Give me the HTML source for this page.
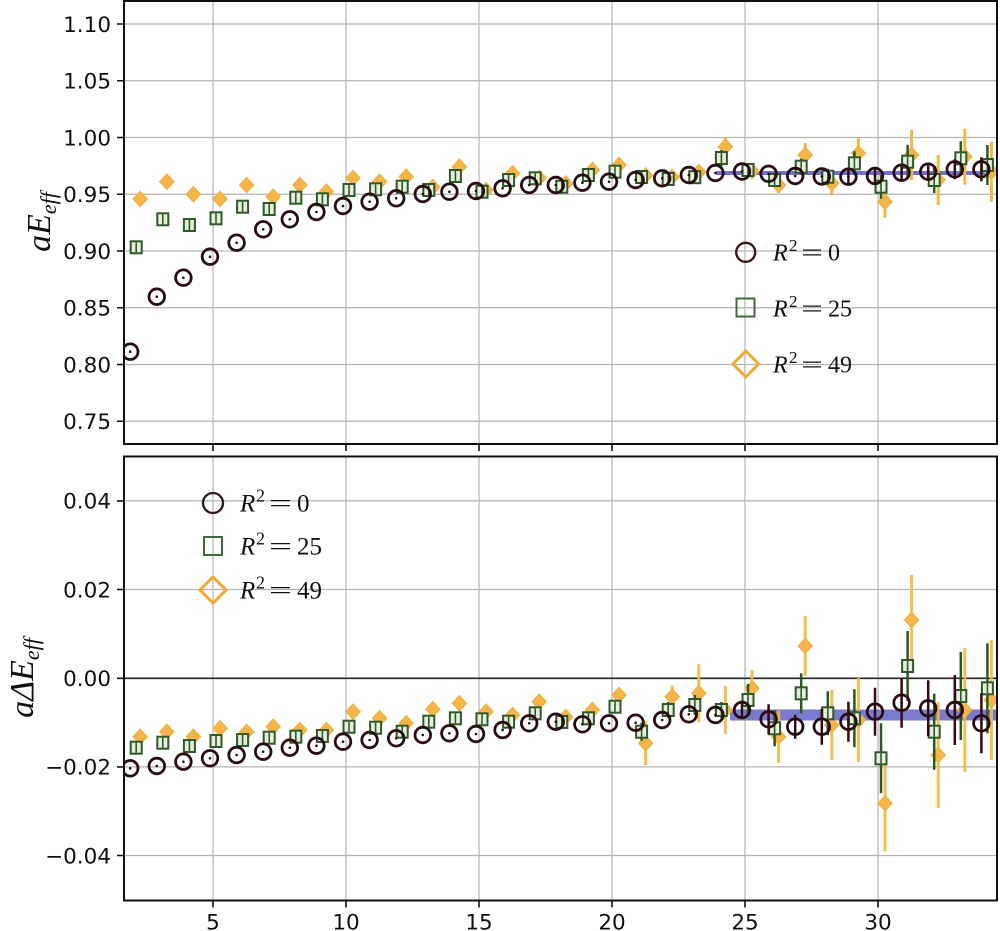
<!DOCTYPE html>
<html><head><meta charset="utf-8"><style>
html,body{margin:0;padding:0;background:#fff;}
svg{display:block;}
.tk{font-family:"DejaVu Sans","Liberation Sans",sans-serif;font-size:21.5px;fill:#111;}
.lg{font-family:"Liberation Serif",serif;fill:#111;}
</style></head><body>
<svg width="1000" height="931" viewBox="0 0 1000 931" xmlns="http://www.w3.org/2000/svg">
<defs>
<clipPath id="ct"><rect x="124" y="1" width="873" height="443"/></clipPath>
<clipPath id="cb"><rect x="124" y="456.5" width="873" height="444"/></clipPath>
<g id="c"><circle r="7.8" fill="none" stroke="#2c0c14" stroke-width="2.8"/><circle r="1.3" fill="#2c0c14"/></g>
<g id="s"><rect x="-5.5" y="-6" width="11" height="12" fill="#e6eedc" stroke="#2d5a28" stroke-width="2"/><line y1="-5" y2="5" stroke="#2d5a28" stroke-width="1.6"/></g>
<g id="d"><path d="M0,-7.8 L7.2,0 L0,7.8 L-7.2,0Z" fill="#f5b548" stroke="#f3b040" stroke-width="1"/></g>
</defs>

<!-- ================= TOP PANEL ================= -->
<g stroke="#b4b4b4" stroke-width="1.2">
<path d="M213 1V444M346 1V444M479 1V444M612 1V444M745 1V444M878 1V444"/>
<path d="M124 24H997M124 80.75H997M124 137.5H997M124 194.25H997M124 251H997M124 307.75H997M124 364.5H997M124 421.25H997"/>
</g>
<g clip-path="url(#ct)">
<line x1="716" y1="173" x2="997" y2="173" stroke="#6262c6" stroke-width="4" opacity="0.9"/>
<path stroke="#f3b845" stroke-width="3" fill="none" d="M725.4 136.7V156.7M752 165V177M778.6 177V193M805.2 143V167M831.8 171.3V195.3M858.4 138.3V168.3M885 185.7V217.7M911.6 130V180M938.2 155V205M964.8 128.7V184.7M991.4 141.7V201.7"/>
<use href="#d" x="140.2" y="199"/><use href="#d" x="166.8" y="181.7"/><use href="#d" x="193.4" y="194.3"/><use href="#d" x="220" y="199"/><use href="#d" x="246.6" y="185"/><use href="#d" x="273.2" y="196.7"/><use href="#d" x="299.8" y="185"/><use href="#d" x="326.4" y="191.7"/><use href="#d" x="353" y="178"/><use href="#d" x="379.6" y="181.7"/><use href="#d" x="406.2" y="176.7"/><use href="#d" x="432.8" y="187"/><use href="#d" x="459.4" y="166.7"/><use href="#d" x="486" y="190"/><use href="#d" x="512.6" y="173.3"/><use href="#d" x="539.2" y="178"/><use href="#d" x="565.8" y="183.5"/><use href="#d" x="592.4" y="170"/><use href="#d" x="619" y="165"/><use href="#d" x="645.6" y="175.5"/><use href="#d" x="672.2" y="177"/><use href="#d" x="698.8" y="172"/><use href="#d" x="725.4" y="146.7"/><use href="#d" x="752" y="171"/><use href="#d" x="778.6" y="185"/><use href="#d" x="805.2" y="155"/><use href="#d" x="831.8" y="183.3"/><use href="#d" x="858.4" y="153.3"/><use href="#d" x="885" y="201.7"/><use href="#d" x="911.6" y="155"/><use href="#d" x="938.2" y="180"/><use href="#d" x="964.8" y="156.7"/><use href="#d" x="991.4" y="171.7"/>
<path stroke="#2a5a1c" stroke-width="2.5" fill="none" d="M721.4 150V166M748 165V175M774.6 174V186M801.2 158.7V174.7M827.8 168.7V184.7M854.4 151.3V175.3M881 174.7V198.7M907.6 144.7V178.7M934.2 167V193M960.8 141.3V175.3M987.4 145V185"/>
<use href="#s" x="136.2" y="247.3"/><use href="#s" x="162.8" y="219.3"/><use href="#s" x="189.4" y="225"/><use href="#s" x="216" y="218.3"/><use href="#s" x="242.6" y="206.7"/><use href="#s" x="269.2" y="209"/><use href="#s" x="295.8" y="197.7"/><use href="#s" x="322.4" y="199.3"/><use href="#s" x="349" y="190"/><use href="#s" x="375.6" y="189.3"/><use href="#s" x="402.2" y="186.7"/><use href="#s" x="428.8" y="190"/><use href="#s" x="455.4" y="176"/><use href="#s" x="482" y="191.7"/><use href="#s" x="508.6" y="180"/><use href="#s" x="535.2" y="178.3"/><use href="#s" x="561.8" y="186.7"/><use href="#s" x="588.4" y="175"/><use href="#s" x="615" y="171.7"/><use href="#s" x="641.6" y="177"/><use href="#s" x="668.2" y="179"/><use href="#s" x="694.8" y="177.2"/><use href="#s" x="721.4" y="158"/><use href="#s" x="748" y="170"/><use href="#s" x="774.6" y="180"/><use href="#s" x="801.2" y="166.7"/><use href="#s" x="827.8" y="176.7"/><use href="#s" x="854.4" y="163.3"/><use href="#s" x="881" y="186.7"/><use href="#s" x="907.6" y="161.7"/><use href="#s" x="934.2" y="180"/><use href="#s" x="960.8" y="158.3"/><use href="#s" x="987.4" y="165"/>
<path stroke="#3a0a14" stroke-width="2.5" fill="none" d="M848.4 168.7V184.7M875 168V184M901.6 163.7V181.7M928.2 162.7V180.7M954.8 159.3V179.3M981.4 157.3V181.3"/>
<use href="#c" x="130.2" y="351.7"/><use href="#c" x="156.8" y="296.7"/><use href="#c" x="183.4" y="277.7"/><use href="#c" x="210" y="256.7"/><use href="#c" x="236.6" y="242.7"/><use href="#c" x="263.2" y="229.3"/><use href="#c" x="289.8" y="219.3"/><use href="#c" x="316.4" y="212"/><use href="#c" x="343" y="206"/><use href="#c" x="369.6" y="201.7"/><use href="#c" x="396.2" y="198.3"/><use href="#c" x="422.8" y="194"/><use href="#c" x="449.4" y="191.7"/><use href="#c" x="476" y="191"/><use href="#c" x="502.6" y="188.3"/><use href="#c" x="529.2" y="185"/><use href="#c" x="555.8" y="185"/><use href="#c" x="582.4" y="182.7"/><use href="#c" x="609" y="181.7"/><use href="#c" x="635.6" y="180"/><use href="#c" x="662.2" y="178.3"/><use href="#c" x="688.8" y="175"/><use href="#c" x="715.4" y="173"/><use href="#c" x="742" y="171.5"/><use href="#c" x="768.6" y="173.8"/><use href="#c" x="795.2" y="176"/><use href="#c" x="821.8" y="176.5"/><use href="#c" x="848.4" y="176.7"/><use href="#c" x="875" y="176"/><use href="#c" x="901.6" y="172.7"/><use href="#c" x="928.2" y="171.7"/><use href="#c" x="954.8" y="169.3"/><use href="#c" x="981.4" y="169.3"/>
</g>
<circle cx="745.7" cy="252.3" r="9.5" fill="none" stroke="#3a1418" stroke-width="2.3"/>
<rect x="736.5" y="298.5" width="18" height="18" fill="none" stroke="#3d6b3d" stroke-width="2"/>
<path d="M745.7 351 L758.5 364 L745.7 377 L733 364Z" fill="none" stroke="#f0aa30" stroke-width="3"/>
<g class="lg">
<text x="773" y="260.5" font-size="24" font-style="italic">R</text><text x="789" y="251" font-size="17">2</text><text x="801" y="260.5" font-size="24" textLength="22" lengthAdjust="spacingAndGlyphs">=</text><text x="828" y="260.5" font-size="24">0</text>
<text x="773" y="316.5" font-size="24" font-style="italic">R</text><text x="789" y="307" font-size="17">2</text><text x="801" y="316.5" font-size="24" textLength="22" lengthAdjust="spacingAndGlyphs">=</text><text x="828" y="316.5" font-size="24">25</text>
<text x="773" y="372.5" font-size="24" font-style="italic">R</text><text x="789" y="363" font-size="17">2</text><text x="801" y="372.5" font-size="24" textLength="22" lengthAdjust="spacingAndGlyphs">=</text><text x="828" y="372.5" font-size="24">49</text>
</g>
<rect x="124" y="1" width="873" height="443" fill="none" stroke="#111" stroke-width="2"/>
<g stroke="#111" stroke-width="1.6">
<path d="M117 24H124M117 80.75H124M117 137.5H124M117 194.25H124M117 251H124M117 307.75H124M117 364.5H124M117 421.25H124"/>
<path d="M213 444V451M346 444V451M479 444V451M612 444V451M745 444V451M878 444V451"/>
</g>
<g class="tk" text-anchor="end">
<text x="111" y="31.8">1.10</text><text x="111" y="88.5">1.05</text><text x="111" y="145.3">1.00</text><text x="111" y="202">0.95</text><text x="111" y="258.8">0.90</text><text x="111" y="315.5">0.85</text><text x="111" y="372.3">0.80</text><text x="111" y="429">0.75</text>
</g>
<text transform="translate(50,222) rotate(-90)" text-anchor="middle" font-family="Liberation Serif,serif" font-style="italic" font-size="34" fill="#111">aE<tspan font-size="22" dy="6">eff</tspan></text>

<!-- ================= BOTTOM PANEL ================= -->
<g stroke="#b4b4b4" stroke-width="1.2">
<path d="M213 456.5V900.5M346 456.5V900.5M479 456.5V900.5M612 456.5V900.5M745 456.5V900.5M878 456.5V900.5"/>
<path d="M124 500.9H997M124 589.5H997M124 766.9H997M124 855.5H997"/>
</g>
<line x1="124" y1="678.3" x2="997" y2="678.3" stroke="#222" stroke-width="1.6"/>
<g clip-path="url(#cb)">
<line x1="730" y1="715" x2="997" y2="715" stroke="#6c6cca" stroke-width="11" opacity="0.9"/>
<path stroke="#f3b845" stroke-width="3" fill="none" opacity="0.9" d="M645.6 721.3V765.3M672.2 685.7V707.7M698.8 664.3V722.3M725.4 686V734M752 670.3V706.3M778.6 710.7V762.7M805.2 616V676M831.8 690V760M858.4 678V762M885 755.3V851.3M911.6 575V665M938.2 702V808M964.8 648V772M991.4 640V760"/>
<use href="#d" x="140.2" y="736.7"/><use href="#d" x="166.8" y="731.7"/><use href="#d" x="193.4" y="736.7"/><use href="#d" x="220" y="728.3"/><use href="#d" x="246.6" y="732"/><use href="#d" x="273.2" y="726.7"/><use href="#d" x="299.8" y="730"/><use href="#d" x="326.4" y="730"/><use href="#d" x="353" y="711.7"/><use href="#d" x="379.6" y="718.3"/><use href="#d" x="406.2" y="723.3"/><use href="#d" x="432.8" y="709.3"/><use href="#d" x="459.4" y="703.3"/><use href="#d" x="486" y="711.7"/><use href="#d" x="512.6" y="715"/><use href="#d" x="539.2" y="701.7"/><use href="#d" x="565.8" y="717"/><use href="#d" x="592.4" y="710"/><use href="#d" x="619" y="695"/><use href="#d" x="645.6" y="743.3"/><use href="#d" x="672.2" y="696.7"/><use href="#d" x="698.8" y="693.3"/><use href="#d" x="725.4" y="710"/><use href="#d" x="752" y="688.3"/><use href="#d" x="778.6" y="736.7"/><use href="#d" x="805.2" y="646"/><use href="#d" x="831.8" y="725"/><use href="#d" x="858.4" y="720"/><use href="#d" x="885" y="803.3"/><use href="#d" x="911.6" y="620"/><use href="#d" x="938.2" y="755"/><use href="#d" x="964.8" y="710"/><use href="#d" x="991.4" y="700"/>
<path stroke="#2a5a1c" stroke-width="2.5" fill="none" d="M641.6 722.7V740.7M668.2 702V718M694.8 695V715M721.4 702V718M748 684V716M774.6 710.3V746.3M801.2 673.3V713.3M827.8 691.3V735.3M854.4 689.3V747.3M881 723.3V793.3M907.6 631V701M934.2 693.7V769.7M960.8 652V740M987.4 643.3V733.3"/>
<use href="#s" x="136.2" y="747.7"/><use href="#s" x="162.8" y="742.7"/><use href="#s" x="189.4" y="746"/><use href="#s" x="216" y="741"/><use href="#s" x="242.6" y="740"/><use href="#s" x="269.2" y="737.7"/><use href="#s" x="295.8" y="736.7"/><use href="#s" x="322.4" y="736"/><use href="#s" x="349" y="726.7"/><use href="#s" x="375.6" y="727.7"/><use href="#s" x="402.2" y="731.7"/><use href="#s" x="428.8" y="721.7"/><use href="#s" x="455.4" y="718.3"/><use href="#s" x="482" y="719.3"/><use href="#s" x="508.6" y="721.7"/><use href="#s" x="535.2" y="713.3"/><use href="#s" x="561.8" y="722"/><use href="#s" x="588.4" y="718.3"/><use href="#s" x="615" y="706.7"/><use href="#s" x="641.6" y="731.7"/><use href="#s" x="668.2" y="710"/><use href="#s" x="694.8" y="705"/><use href="#s" x="721.4" y="710"/><use href="#s" x="748" y="700"/><use href="#s" x="774.6" y="728.3"/><use href="#s" x="801.2" y="693.3"/><use href="#s" x="827.8" y="713.3"/><use href="#s" x="854.4" y="718.3"/><use href="#s" x="881" y="758.3"/><use href="#s" x="907.6" y="666"/><use href="#s" x="934.2" y="731.7"/><use href="#s" x="960.8" y="696"/><use href="#s" x="987.4" y="688.3"/>
<path stroke="#3a0a14" stroke-width="2.5" fill="none" d="M742 701V719M768.6 704.3V734.3M795.2 714.7V738.7M821.8 708.7V744.7M848.4 701.7V741.7M875 687.7V735.7M901.6 677.7V727.7M928.2 680.3V736.3M954.8 675V745M981.4 693.3V753.3"/>
<use href="#c" x="130.2" y="768.3"/><use href="#c" x="156.8" y="766"/><use href="#c" x="183.4" y="761.7"/><use href="#c" x="210" y="758.3"/><use href="#c" x="236.6" y="755"/><use href="#c" x="263.2" y="751.7"/><use href="#c" x="289.8" y="747.7"/><use href="#c" x="316.4" y="745.7"/><use href="#c" x="343" y="741.7"/><use href="#c" x="369.6" y="740"/><use href="#c" x="396.2" y="738.3"/><use href="#c" x="422.8" y="735"/><use href="#c" x="449.4" y="733.3"/><use href="#c" x="476" y="734"/><use href="#c" x="502.6" y="730"/><use href="#c" x="529.2" y="723.3"/><use href="#c" x="555.8" y="721.7"/><use href="#c" x="582.4" y="724.3"/><use href="#c" x="609" y="723.3"/><use href="#c" x="635.6" y="722.7"/><use href="#c" x="662.2" y="720"/><use href="#c" x="688.8" y="714.3"/><use href="#c" x="715.4" y="715"/><use href="#c" x="742" y="710"/><use href="#c" x="768.6" y="719.3"/><use href="#c" x="795.2" y="726.7"/><use href="#c" x="821.8" y="726.7"/><use href="#c" x="848.4" y="721.7"/><use href="#c" x="875" y="711.7"/><use href="#c" x="901.6" y="702.7"/><use href="#c" x="928.2" y="708.3"/><use href="#c" x="954.8" y="710"/><use href="#c" x="981.4" y="723.3"/>
</g>
<circle cx="213" cy="503" r="10" fill="none" stroke="#3a1418" stroke-width="2.3"/>
<rect x="204" y="537" width="18" height="18" fill="none" stroke="#3d6b3d" stroke-width="2"/>
<path d="M213 577 L226 590 L213 603 L200 590Z" fill="none" stroke="#f0aa30" stroke-width="3"/>
<g class="lg">
<text x="240" y="511.5" font-size="25" font-style="italic">R</text><text x="256" y="501.5" font-size="18">2</text><text x="269" y="511.5" font-size="25" textLength="23" lengthAdjust="spacingAndGlyphs">=</text><text x="297" y="511.5" font-size="25">0</text>
<text x="240" y="554.5" font-size="25" font-style="italic">R</text><text x="256" y="544.5" font-size="18">2</text><text x="269" y="554.5" font-size="25" textLength="23" lengthAdjust="spacingAndGlyphs">=</text><text x="297" y="554.5" font-size="25">25</text>
<text x="240" y="598.5" font-size="25" font-style="italic">R</text><text x="256" y="588.5" font-size="18">2</text><text x="269" y="598.5" font-size="25" textLength="23" lengthAdjust="spacingAndGlyphs">=</text><text x="297" y="598.5" font-size="25">49</text>
</g>
<rect x="124" y="456.5" width="873" height="444" fill="none" stroke="#111" stroke-width="2"/>
<g stroke="#111" stroke-width="1.6">
<path d="M117 500.9H124M117 589.5H124M117 678.3H124M117 766.9H124M117 855.5H124"/>
<path d="M213 900.5V907.5M346 900.5V907.5M479 900.5V907.5M612 900.5V907.5M745 900.5V907.5M878 900.5V907.5"/>
</g>
<g class="tk" text-anchor="end">
<text x="111" y="508.7">0.04</text><text x="111" y="597.3">0.02</text><text x="111" y="686.1">0.00</text><text x="111" y="774.7">−0.02</text><text x="111" y="863.3">−0.04</text>
</g>
<g class="tk" text-anchor="middle">
<text x="213" y="929.5">5</text><text x="346" y="929.5">10</text><text x="479" y="929.5">15</text><text x="612" y="929.5">20</text><text x="745" y="929.5">25</text><text x="878" y="929.5">30</text>
</g>
<text transform="translate(33,678) rotate(-90)" text-anchor="middle" font-family="Liberation Serif,serif" font-style="italic" font-size="34" fill="#111">aΔE<tspan font-size="22" dy="6">eff</tspan></text>
</svg>
</body></html>
